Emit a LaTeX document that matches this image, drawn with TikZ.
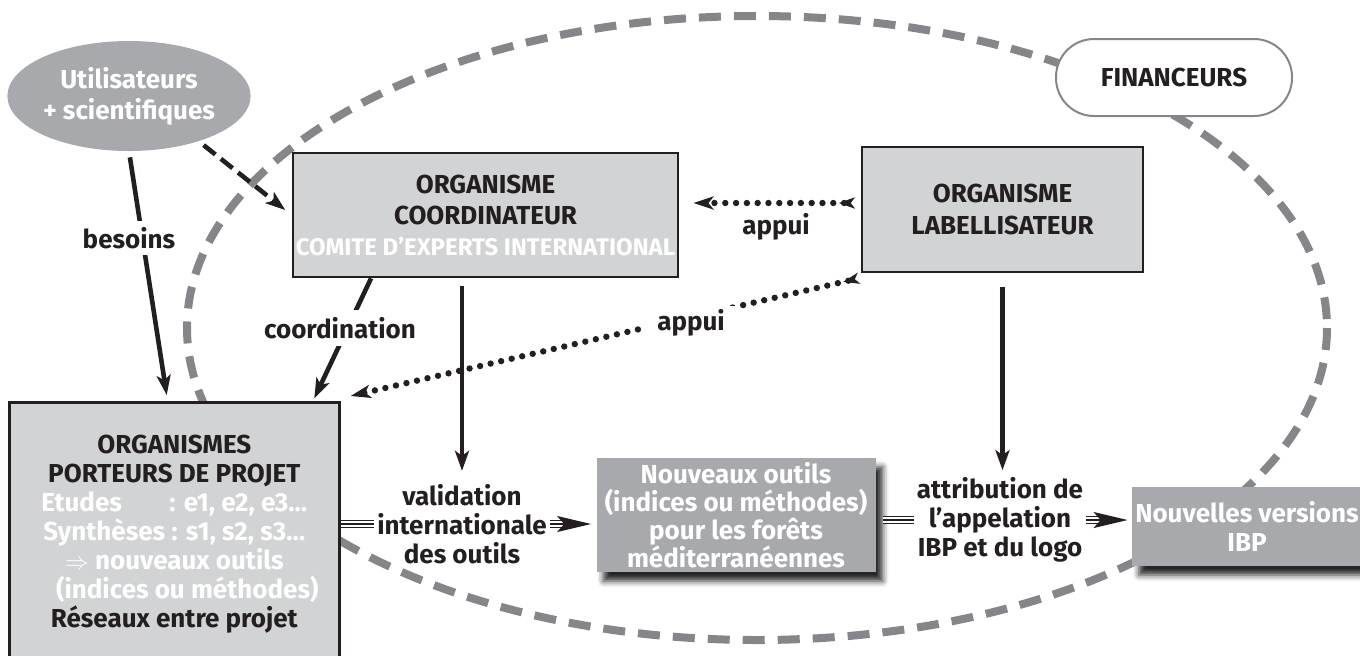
\documentclass[tikz,border=0pt]{standalone}
\usepackage{fontspec}
\setmainfont{Fira Sans}
\usetikzlibrary{arrows.meta,shapes.geometric,calc,shadows.blur}
\definecolor{cLight}{HTML}{D1D3D4}
\definecolor{cDark}{HTML}{A7A9AC}
\definecolor{cRing}{HTML}{858689}
\definecolor{ink}{HTML}{231F20}
\newcommand{\fsz}[1]{\fontsize{13}{#1}\selectfont\bfseries}
\begin{document}
\begin{tikzpicture}[x=0.5pt,y=-0.5pt,
  every node/.style={font=\fsz{14.5pt}, text=ink, align=center, inner sep=1.5pt},
  ring/.style={draw=cRing, line width=4pt, dash pattern=on 11pt off 6.5pt},
  boxlight/.style={rectangle, draw=ink, line width=1.3pt, fill=cLight},
  boxdark/.style={rectangle, fill=cDark, text=white, blur shadow={shadow xshift=3.5pt, shadow yshift=-4.5pt, shadow blur radius=3pt, shadow opacity=85}},
  lbl/.style={fill=white, inner xsep=4pt, inner ysep=3pt},
  solidarrow/.style={draw=ink, line width=2.3pt, -{Stealth[length=10pt, width=7pt, inset=2.5pt]}},
  dasharrow/.style={draw=ink, line width=2.3pt, dash pattern=on 7.5pt off 3.5pt, -{Stealth[length=10pt, width=7pt, inset=2.5pt]}},
  dotline/.style={draw=ink, line width=3.2pt, line cap=round, dash pattern=on 0pt off 5.4pt, {Stealth[reversed, length=8pt, width=5.5pt, inset=2pt]}-{Stealth[length=10pt, width=6.5pt, inset=2.5pt]}},
  triple/.style={draw=ink, line width=0.6pt, preaction={draw=ink, line width=4pt}, preaction={draw=white, line width=2.8pt}},
  bigtip/.style={draw=ink, line width=0.6pt, -{Stealth[length=17pt, width=8pt, inset=3.5pt]}},
]
\useasboundingbox (0,0) rectangle (1360,655);
\clip (0,0) rectangle (1360,655);

% dashed ring
\draw[ring] (757,328) ellipse [x radius=570, y radius=312];

% nodes
\node[ellipse, fill=cDark, text=white, minimum width=121pt, minimum height=55pt, inner sep=0pt, font=\fsz{15.5pt}] (util) at (129,96) {Utilisateurs\\+ scientifiques};

\node[boxlight, minimum width=189.5pt, minimum height=62pt, font=\fsz{15.5pt}] (coord) at (485.5,215)
  {ORGANISME\\COORDINATEUR\\{\color{white}\fontsize{12}{15.5pt}\selectfont COMITE D’EXPERTS INTERNATIONAL}};

\node[boxlight, minimum width=140.5pt, minimum height=62.5pt, font=\fsz{16pt}] (lab) at (1002.5,209.5) {ORGANISME\\LABELLISATEUR};

\node[draw=cRing, line width=1pt, fill=white, rounded corners=19pt, minimum width=118pt, minimum height=38.5pt] (fin) at (1174,77.5) {FINANCEURS};

\node[boxlight, minimum width=165pt, minimum height=132pt, anchor=north west] (lbox) at (8,401)
  {ORGANISMES\\
   PORTEURS DE PROJET\\
   {\color{white}\rlap{Etudes}\phantom{Synthèses} : e1, e2, e3…}\\
   {\color{white}Synthèses : s1, s2, s3…}\\
   {\color{white}$\Rightarrow$ nouveaux outils}\\
   {\color{white}\hspace*{13pt}(indices ou méthodes)}\\
   Réseaux entre projet};

\node[boxdark, minimum width=139.5pt, minimum height=57pt, font=\fsz{14pt}] (mid) at (736,515)
  {Nouveaux outils\\(indices ou méthodes)\\pour les forêts\\méditerranéennes};

\node[boxdark, minimum width=115pt, minimum height=39.5pt] (newv) at (1247,526.5) {Nouvelles versions\\IBP};

\node (val) at (462,524) {validation\\internationale\\des outils};
\node (attr) at (1000,520) {attribution de\\l’appelation\\IBP et du logo};
\node (appui1) at (776,227) {appui};

% connectors
\draw[solidarrow, shorten <=3pt, shorten >=3pt] (util.south) -- ($(lbox.north west)!0.48!(lbox.north east)$);
\draw[dasharrow, shorten <=3pt, shorten >=4pt] (util.-33) -- (coord.west);
\draw[solidarrow, shorten >=1.5pt] ($(coord.south west)!0.205!(coord.south east)$) -- ($(lbox.north west)!0.917!(lbox.north east)$);
\draw[solidarrow, shorten <=4pt, shorten >=5pt] (val.north |- coord.south) -- (val.north);
\draw[solidarrow, shorten <=7pt, shorten >=2pt] (lab.south) -- (lab.south |- attr.north);

\draw[dotline, shorten <=3pt, shorten >=7pt] (lab.west |- 0,203) -- (coord.east |- 0,203);
\draw[dotline] ($(lab.south west)+(-2,5)$) -- ($(lbox.north east)+(10,-5)$);

\draw[triple] (lbox.east |- val.west) -- (val.west);
\draw[triple] (val.east) -- ($(val.east -| mid.west)+(-32,0)$);
\draw[bigtip] ($(val.east -| mid.west)+(-36,0)$) -- ($(val.east -| mid.west)+(-5,0)$);

\draw[triple] ($(mid.east |- attr.west)+(7,0)$) -- (attr.west);
\draw[triple] (attr.east) -- ($(attr.east -| newv.west)+(-30,0)$);
\draw[bigtip] ($(attr.east -| newv.west)+(-36,0)$) -- ($(attr.east -| newv.west)+(-4,0)$);

% labels over connectors
\node[lbl] (besoins) at (129,238) {besoins};
\node[lbl, inner ysep=3.5pt] (coordlab) at (340,328) {coordination};
\node[lbl, inner xsep=6pt, inner ysep=2pt] (appui2) at (691,323) {appui};
\end{tikzpicture}
\end{document}
